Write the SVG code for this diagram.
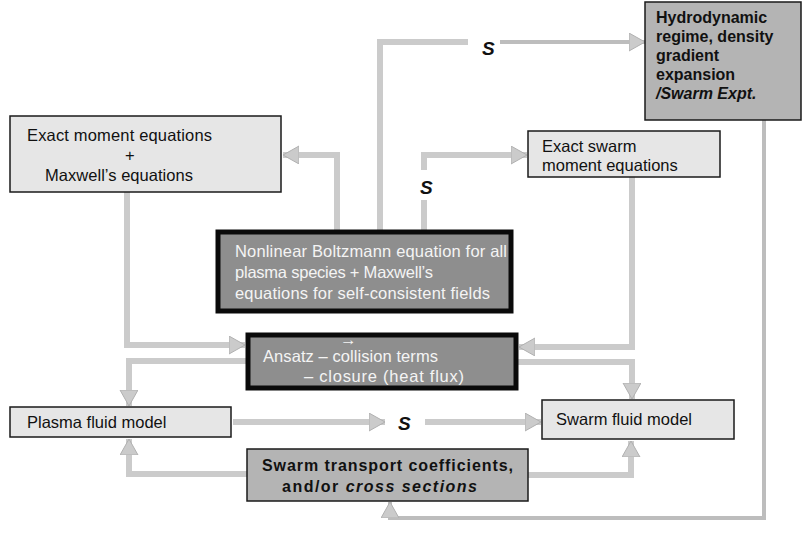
<svg xmlns="http://www.w3.org/2000/svg" width="804" height="534" viewBox="0 0 804 534">
<style>
.box{fill:#e6e6e6;stroke:#1a1a1a;stroke-width:1.5}
.dark{fill:#8e8e8e;stroke:#0a0a0a;stroke-width:5}
.mid{fill:#b4b4b4;stroke:#1a1a1a;stroke-width:1.5}
.t{font-family:"Liberation Sans",Arial,sans-serif;font-size:16.5px;fill:#111}
.tw{font-family:"Liberation Sans",Arial,sans-serif;font-size:16.5px;fill:#f4f4f4}
.tb{font-family:"Liberation Sans",Arial,sans-serif;font-size:16px;font-weight:bold;fill:#111}
.s{font-family:"Liberation Sans",Arial,sans-serif;font-size:19px;font-weight:bold;font-style:italic;fill:#111}
.c{fill:none;stroke:#cbcbcb;stroke-width:6;marker-end:url(#ah)}
.cn{fill:none;stroke:#cbcbcb;stroke-width:6}
.c2{fill:none;stroke:#bdbdbd;stroke-width:4;marker-end:url(#ah)}
</style>
<defs>
<marker id="ah" markerUnits="userSpaceOnUse" markerWidth="20" markerHeight="20" refX="16" refY="9" orient="auto">
<path d="M0,0 L16,9 L0,18 z" fill="#cbcbcb" stroke="#b0b0b0" stroke-width="1"/>
</marker>
</defs>
<rect width="804" height="534" fill="#ffffff"/>
<g id="connectors">
<path class="c" d="M337,230 V155 H283"/>
<path class="cn" d="M380,230 V42 H468"/>
<path class="c2" d="M500,42 H645"/>
<path class="cn" d="M424,230 V200"/>
<path class="c" d="M424,170 V155 H527"/>
<path class="c" d="M127,192 V345 H245"/>
<path class="c" d="M247,361 H129 V406"/>
<path class="c" d="M632,177 V347 H519"/>
<path class="c" d="M517,362 H632 V399"/>
<path class="c" d="M233,422 H385"/>
<path class="c" d="M425,422 H541"/>
<path class="c" d="M247,474 H129 V439"/>
<path class="c" d="M528,475 H631 V441"/>
<path class="c2" d="M764,120 V518 H390 V502"/>
</g>
<g id="labels">
<text class="s" x="482" y="55">S</text>
<text class="s" x="420" y="194">S</text>
<text class="s" x="398" y="430">S</text>
</g>
<g id="exact-moment">
<rect class="box" x="10" y="116" width="271" height="76"/>
<text class="t" x="27" y="141" textLength="185">Exact moment equations</text>
<text class="t" x="125" y="161">+</text>
<text class="t" x="45" y="181" textLength="148">Maxwell’s equations</text>
</g>
<g id="hydrodynamic">
<rect class="mid" x="645" y="2" width="156" height="118"/>
<text class="tb" x="656" y="23">Hydrodynamic</text>
<text class="tb" x="656" y="42">regime, density</text>
<text class="tb" x="656" y="61">gradient</text>
<text class="tb" x="656" y="80">expansion</text>
<text class="tb" x="656" y="99" font-style="italic">/Swarm Expt.</text>
</g>
<g id="exact-swarm">
<rect class="box" x="528" y="131" width="192" height="46"/>
<text class="t" x="542" y="152" font-size="15.5">Exact swarm</text>
<text class="t" x="542" y="171" font-size="15.5">moment equations</text>
</g>
<g id="boltzmann">
<rect class="dark" x="218" y="232" width="293" height="79"/>
<text class="tw" x="235" y="257" textLength="272">Nonlinear Boltzmann equation for all</text>
<text class="tw" x="235" y="278" textLength="198">plasma species + Maxwell’s</text>
<text class="tw" x="235" y="299" textLength="255">equations for self-consistent fields</text>
</g>
<g id="ansatz">
<rect class="dark" x="248" y="335" width="268" height="53"/>
<text class="tw" x="340" y="345" font-size="8">→</text>
<text class="tw" x="263" y="362" textLength="175">Ansatz – collision terms</text>
<text class="tw" x="304" y="382" textLength="160">– closure (heat flux)</text>
</g>
<g id="plasma-fluid">
<rect class="box" x="10" y="407" width="221" height="30"/>
<text class="t" x="27" y="428">Plasma fluid model</text>
</g>
<g id="swarm-fluid">
<rect class="box" x="542" y="400" width="192" height="39"/>
<text class="t" x="556" y="425" textLength="136">Swarm fluid model</text>
</g>
<g id="swarm-transport">
<rect class="mid" x="247" y="449" width="281" height="52"/>
<text class="tb" x="262" y="471" textLength="251" font-size="17.5">Swarm transport coefficients,</text>
<text class="tb" x="282" y="492" textLength="195" font-size="17.5">and/or <tspan font-style="italic">cross sections</tspan></text>
</g>
</svg>
